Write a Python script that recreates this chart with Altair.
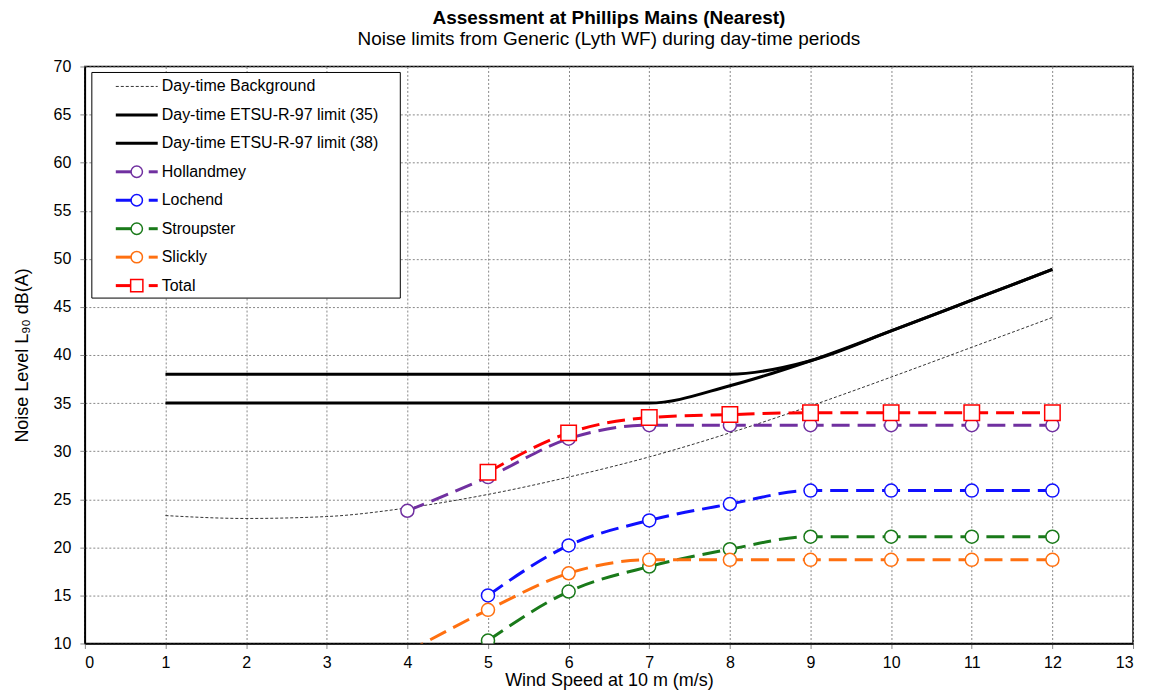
import altair as alt
import pandas as pd

# ---- data ----
wind = [1, 2, 3, 4, 5, 6, 7, 8, 9, 10, 11, 12]
background = [23.3, 23.0, 23.2, 24.1, 25.5, 27.3, 29.4, 31.9, 34.7, 37.7, 40.8, 43.9]
limit35 = [35.0, 35.0, 35.0, 35.0, 35.0, 35.0, 35.0, 36.8, 39.4, 42.5, 45.7, 48.9]
limit38 = [38.0, 38.0, 38.0, 38.0, 38.0, 38.0, 38.0, 38.0, 39.4, 42.5, 45.7, 48.9]

wind_h = [4, 5, 6, 7, 8, 9, 10, 11, 12]
hollandmey = [23.8, 27.3, 31.3, 32.7, 32.7, 32.7, 32.7, 32.7, 32.7]
wind_l = [5, 6, 7, 8, 9, 10, 11, 12]
lochend = [15.0, 20.2, 22.8, 24.5, 25.9, 25.9, 25.9, 25.9]
wind_s = [5, 6, 7, 8, 9, 10, 11, 12]
stroupster = [10.3, 15.4, 18.0, 19.8, 21.1, 21.1, 21.1, 21.1]
wind_k = [4, 5, 6, 7, 8, 9, 10, 11, 12]
slickly = [9.1, 13.5, 17.3, 18.7, 18.7, 18.7, 18.7, 18.7, 18.7]
wind_t = [5, 6, 7, 8, 9, 10, 11, 12]
total = [27.8, 31.9, 33.5, 33.8, 34.0, 34.0, 34.0, 34.0]

legend_labels = ["Day-time Background", "Day-time ETSU-R-97 limit (35)",
                 "Day-time ETSU-R-97 limit (38)", "Hollandmey", "Lochend",
                 "Stroupster", "Slickly", "Total"]

FONT = "Liberation Sans"
W, H = 1050, 578
INTERP = "monotone"

xs = alt.Scale(domain=[0, 13], nice=False)
ys = alt.Scale(domain=[10, 70], nice=False)

xax = alt.Axis(values=list(range(0, 14)), title="Wind Speed at 10 m (m/s)", format="d")
yax = alt.Axis(values=list(range(10, 71, 5)), title="Noise Level L₉₀ dB(A)", format="d")


def df(x, y):
    return pd.DataFrame({"x": x, "y": y})


def enc(first=False):
    if first:
        return dict(x=alt.X("x:Q", scale=xs, axis=xax), y=alt.Y("y:Q", scale=ys, axis=yax))
    return dict(x=alt.X("x:Q", scale=xs), y=alt.Y("y:Q", scale=ys))


layers = []
layers.append(alt.Chart(df(wind, background)).mark_line(
    color="#333333", strokeWidth=1, strokeDash=[3, 2], interpolate=INTERP, clip=True
).encode(**enc(True)))
layers.append(alt.Chart(df(wind, limit35)).mark_line(
    color="black", strokeWidth=3, interpolate=INTERP, clip=True).encode(**enc()))
layers.append(alt.Chart(df(wind, limit38)).mark_line(
    color="black", strokeWidth=3, interpolate=INTERP, clip=True).encode(**enc()))

series = [
    (wind_h, hollandmey, "#7030A0", "circle"),
    (wind_l, lochend, "#1010FF", "circle"),
    (wind_s, stroupster, "#1A7A1A", "circle"),
    (wind_k, slickly, "#FF7010", "circle"),
    (wind_t, total, "#FF0000", "square"),
]
for xv, yv, col, shp in series:
    d = df(xv, yv)
    layers.append(alt.Chart(d).mark_line(
        color=col, strokeWidth=3, strokeDash=[18, 8], interpolate=INTERP, clip=True
    ).encode(**enc()))
    layers.append(alt.Chart(d).mark_point(
        shape=shp, filled=True, fill="white", stroke=col, strokeWidth=1.5,
        size=(240 if shp == "square" else 170), opacity=1, clip=True
    ).encode(**enc()))

# ---- manual legend (pixel positions inside plot area) ----
one = pd.DataFrame({"a": [0]})
layers.append(alt.Chart(one).mark_rect(fill="white", stroke="black", strokeWidth=1).encode(
    x=alt.value(7), x2=alt.value(316), y=alt.value(6), y2=alt.value(232)))
row_y = [20, 48.5, 77, 105.5, 134, 162.5, 191, 219.5]
styles = [("#333333", "dotted", None), ("black", "solid", None), ("black", "solid", None),
          ("#7030A0", "series", "circle"), ("#1010FF", "series", "circle"),
          ("#1A7A1A", "series", "circle"), ("#FF7010", "series", "circle"),
          ("#FF0000", "series", "square")]
for lab, yy, (col, kind, shp) in zip(legend_labels, row_y, styles):
    if kind == "dotted":
        layers.append(alt.Chart(one).mark_rule(color=col, strokeWidth=1, strokeDash=[3, 2]).encode(
            x=alt.value(31), x2=alt.value(73), y=alt.value(yy)))
    elif kind == "solid":
        layers.append(alt.Chart(one).mark_rule(color=col, strokeWidth=3).encode(
            x=alt.value(31), x2=alt.value(73), y=alt.value(yy)))
    else:
        layers.append(alt.Chart(one).mark_rule(color=col, strokeWidth=3).encode(
            x=alt.value(31), x2=alt.value(58), y=alt.value(yy)))
        layers.append(alt.Chart(one).mark_rule(color=col, strokeWidth=3).encode(
            x=alt.value(64), x2=alt.value(73), y=alt.value(yy)))
        layers.append(alt.Chart(one).mark_point(
            shape=shp, filled=True, fill="white", stroke=col, strokeWidth=1.5,
            size=(150 if shp == "square" else 130), opacity=1).encode(
            x=alt.value(52), y=alt.value(yy)))
    layers.append(alt.Chart(one).mark_text(
        text=lab, align="left", baseline="middle", font=FONT, fontSize=16, color="black").encode(
        x=alt.value(77), y=alt.value(yy)))

chart = alt.layer(*layers).properties(
    width=W, height=H,
    title=alt.TitleParams(
        text="Assessment at Phillips Mains (Nearest)",
        subtitle="Noise limits from Generic (Lyth WF) during day-time periods",
        font=FONT, fontSize=19, fontWeight="bold", subtitleFont=FONT, subtitleFontSize=19,
        subtitleColor="black", color="black", anchor="middle", offset=10, subtitlePadding=2),
    padding={"left": 13, "top": 8, "right": 15, "bottom": 0},
).configure_view(
    stroke="black", strokeWidth=1.5
).configure_axis(
    labelFont=FONT, labelFontSize=16, labelColor="black",
    titleFont=FONT, titleFontSize=18, titleFontWeight="normal", titleColor="black",
    gridColor="#888888", gridDash=[2, 2], gridWidth=1,
    domainColor="black", domainWidth=1.5,
    tickColor="#888888", tickSize=5, labelPadding=6,
).configure_axisX(titlePadding=1).configure_axisY(titlePadding=22, labelPadding=9)

chart.save("out.html", embed_options={"renderer": "svg", "actions": False})
